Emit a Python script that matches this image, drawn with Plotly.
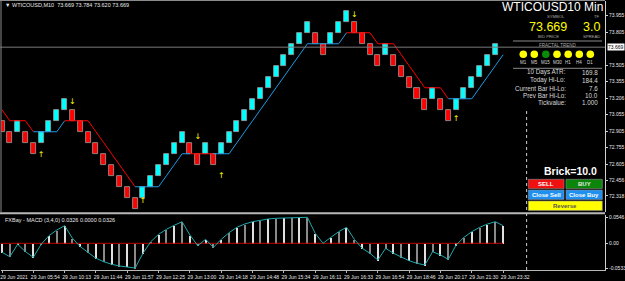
import plotly.graph_objects as go

W, H = 625, 281

# ---------------- data ----------------
brick_low = [72.9, 72.8, 72.9, 72.8, 72.7, 72.8, 72.9, 73.0, 73.1, 73.0,
             72.9, 72.8, 72.7, 72.6, 72.5, 72.4, 72.3, 72.2, 72.3, 72.4,
             72.5, 72.6, 72.7, 72.8, 72.7, 72.6, 72.7, 72.6, 72.7, 72.8,
             72.9, 73.0, 73.1, 73.2, 73.3, 73.4, 73.5, 73.6, 73.7, 73.8,
             73.7, 73.6, 73.7, 73.8, 73.9, 73.8, 73.7, 73.6, 73.5, 73.6,
             73.5, 73.4, 73.3, 73.2, 73.1, 73.2, 73.1, 73.0, 73.1, 73.2,
             73.3, 73.4, 73.5, 73.6]
brick_dir = ("DDUDDUUUUDDDDDDDDDUUUUUUDDUDUUUUUUUUUUUUDDUUUDDDDUDDDDDUDDUUUUUU")
brick_size = 0.1

trail_value = [73.1, 73.0, 73.0, 73.0, 72.9, 72.9, 72.9, 72.9, 73.0, 73.0,
               73.0, 73.0, 72.9, 72.8, 72.7, 72.6, 72.5, 72.4, 72.4, 72.4,
               72.4, 72.5, 72.6, 72.7, 72.7, 72.7, 72.7, 72.7, 72.7, 72.7,
               72.8, 72.9, 73.0, 73.1, 73.2, 73.3, 73.4, 73.5, 73.6, 73.7,
               73.7, 73.7, 73.7, 73.7, 73.8, 73.8, 73.8, 73.8, 73.7, 73.7,
               73.7, 73.6, 73.5, 73.4, 73.3, 73.3, 73.3, 73.2, 73.2, 73.2,
               73.2, 73.3, 73.4, 73.5, 73.6]
trail_state = ("DDDD" "UUUU" "DDDDDDDDD" "UUUUUUU" "DDD"
               "UUUUUUUUUUUUUUUUU" "DDDDDDDDDDDDD" "UUUUUUUU")

macd = [-0.0189, -0.0282, -0.0021, -0.0176, -0.0294, -0.0021, 0.0160, 0.0279, 0.0370, 0.0105,
        -0.0071, -0.0197, -0.0315, -0.0387, -0.0441, -0.0477, -0.0492, -0.0519, -0.0210, 0.0034,
        0.0189, 0.0294, 0.0378, 0.0454, 0.0174, -0.0050, 0.0084, -0.0084, 0.0084, 0.0223,
        0.0336, 0.0405, 0.0454, 0.0489, 0.0511, 0.0525, 0.0532, 0.0538, 0.0546, 0.0546,
        0.0210, 0.0000, 0.0126, 0.0244, 0.0336, 0.0084, -0.0105, -0.0210, -0.0351, -0.0105,
        -0.0210, -0.0294, -0.0366, -0.0420, -0.0456, -0.0176, -0.0246, -0.0336, -0.0036, 0.0126,
        0.0244, 0.0336, 0.0405, 0.0454, 0.0370]

fractal_up_bar = [6, 19, 29, 59]
fractal_up_price = [72.69, 72.27, 72.50, 73.02]
fractal_dn_bar = [10, 26, 46]
fractal_dn_price = [73.17, 72.85, 73.96]

time_tick_bar = [1, 5, 9, 13, 17, 21, 25, 29, 33, 37, 41, 45, 49, 53, 57, 61, 65]
time_tick_text = ["29 Jun 2021", "29 Jun 05:54", "29 Jun 10:13", "29 Jun 11:44",
                  "29 Jun 11:57", "29 Jun 12:25", "29 Jun 13:00", "29 Jun 14:18",
                  "29 Jun 14:48", "29 Jun 15:34", "29 Jun 16:11", "29 Jun 16:33",
                  "29 Jun 16:54", "29 Jun 18:46", "29 Jun 20:17", "29 Jun 21:30",
                  "29 Jun 23:32"]

price_ticks = [73.955, 73.805, 73.505, 73.355, 73.206, 73.055, 72.905,
               72.755, 72.605, 72.456, 72.318]
price_tick_text = ["73.955", "73.805", "73.505", "73.355", "73.206", "73.055", "72.905",
                   "72.755", "72.605", "72.456", "72.318"]
bid_price = 73.669
macd_ticks = [0.0546, 0.0, -0.0533]
macd_tick_text = ["0.0546", "0.00", "-0.0533"]

atr_labels = ["10 Days ATR:", "Today Hi-Lo:", "Current Bar Hi-Lo:", "Prev Bar Hi-Lo:", "Tickvalue:"]
atr_values = ["169.8", "184.4", "7.6", "10.0", "1.000"]
tf_labels = ["M1", "M5", "M15", "M30", "H1", "H4", "D1"]
tf_trend = ["Y", "Y", "G", "Y", "Y", "Y", "Y"]

# ---------------- helpers ----------------
def px(x):
    return x / W

def py(y):
    return 1 - y / H

FONT = "Liberation Sans, Arial, sans-serif"
bars = list(range(1, len(brick_low) + 1))
mbars = list(range(1, len(macd) + 1))

fig = go.Figure()

# renko bricks
fig.add_trace(go.Bar(
    x=bars, y=[brick_size] * len(bars), base=brick_low, width=0.64,
    marker=dict(color=["#00FFFF" if d == "U" else "#FF0000" for d in brick_dir],
                line=dict(color="#9c9c9c", width=0.8)),
    yaxis="y", xaxis="x", hoverinfo="skip", showlegend=False))

# trailing stepped line
for state, col in (("D", "#FF0000"), ("U", "#1C9BE6")):
    xs, ys = [], []
    for i in range(len(trail_value) - 1):
        if trail_state[i] == state:
            xs += [i + 1, i + 2, None]
            ys += [trail_value[i], trail_value[i + 1], None]
    fig.add_trace(go.Scatter(x=xs, y=ys, mode="lines", line=dict(color=col, width=1),
                             yaxis="y", hoverinfo="skip", showlegend=False))

# fractal arrows
fig.add_trace(go.Scatter(x=fractal_up_bar, y=fractal_up_price, mode="text", text=["↑"] * len(fractal_up_bar),
                         textfont=dict(color="#FFFF00", size=8, family="DejaVu Sans"),
                         yaxis="y", hoverinfo="skip", showlegend=False))
fig.add_trace(go.Scatter(x=fractal_dn_bar, y=fractal_dn_price, mode="text", text=["↓"] * len(fractal_dn_bar),
                         textfont=dict(color="#FFFF00", size=8, family="DejaVu Sans"),
                         yaxis="y", hoverinfo="skip", showlegend=False))

# MACD zero line
fig.add_trace(go.Scatter(x=[0.87, mbars[-1]], y=[0, 0], mode="lines", line=dict(color="#C00000", width=1),
                         yaxis="y2", hoverinfo="skip", showlegend=False))
# MACD histogram
fig.add_trace(go.Bar(x=mbars, y=macd, width=0.14,
                     marker=dict(color=["#E0E0E0" if i % 2 == 0 else "#8A8A8A" for i in range(len(macd))],
                                 line=dict(width=0)),
                     yaxis="y2", hoverinfo="skip", showlegend=False))
# MACD line
fig.add_trace(go.Scatter(x=mbars, y=macd, mode="lines", line=dict(color="#20A8AC", width=1),
                         yaxis="y2", hoverinfo="skip", showlegend=False))

# ---------------- layout ----------------
x0, x1 = 1, 605
main_top, main_bot = 1, 212
sub_top, sub_bot = 214.5, 270

shapes = [
    dict(type="line", xref="paper", yref="paper", x0=0, x1=px(x1), y0=py(0.5), y1=py(0.5),
         line=dict(color="#8a8a8a", width=1)),
    dict(type="line", xref="paper", yref="paper", x0=px(1), x1=px(1), y0=py(main_top), y1=py(main_bot),
         line=dict(color="#8a8a8a", width=1)),
    dict(type="line", xref="paper", yref="paper", x0=0, x1=px(x1), y0=py(213.3), y1=py(213.3),
         line=dict(color="#B8B8B8", width=2)),
    dict(type="line", xref="paper", yref="y", x0=0, x1=px(x1), y0=bid_price, y1=bid_price,
         line=dict(color="#7a7a7a", width=1)),
    dict(type="line", xref="x", yref="paper", x0=68, x1=68, y0=py(270), y1=py(108),
         line=dict(color="#cfcfcf", width=1, dash="dot")),
    dict(type="line", xref="paper", yref="paper", x0=px(513), x1=px(602), y0=py(41), y1=py(41),
         line=dict(color="#8a8a8a", width=1)),
    dict(type="line", xref="paper", yref="paper", x0=px(513), x1=px(602), y0=py(68.3), y1=py(68.3),
         line=dict(color="#8a8a8a", width=1)),
]

annotations = []

def text(x, y, s, size, color="#FFFFFF", anchor="left", bold=False, family=FONT, bg=None):
    a = dict(xref="paper", yref="paper", x=px(x), y=py(y), text=("<b>%s</b>" % s) if bold else s,
             showarrow=False, xanchor=anchor, yanchor="middle",
             font=dict(size=size, color=color, family=family))
    if bg:
        a["bgcolor"] = bg
    annotations.append(a)

text(3, 5, "▼ WTICOUSD,M10  73.669 73.784 73.620 73.669", 5.5, "#E8E8E8")
text(3, 219.5, "FXBay - MACD (3,4,0) 0.0326 0.0000 0.0326", 5.5, "#E8E8E8")

annotations.append(dict(xref="paper", yref="y", x=px(606.5), y=bid_price, text="73.669", showarrow=False,
                        xanchor="left", yanchor="middle", bgcolor="#FFFFFF", borderpad=0,
                        font=dict(size=5, color="#000000", family=FONT)))

# info panel
text(604.5, 7.3, "WTICOUSD10 Min", 12, "#FFFFFF", anchor="right")
text(556, 16.8, "SYMBOL", 4.2, "#A8A8A8", anchor="center")
text(597, 16.8, "TF", 4.2, "#A8A8A8", anchor="center")
text(547.5, 27.5, "73.669", 12.5, "#FFFF00", anchor="center")
text(591, 27.5, "3.0", 12.5, "#FFFF00", anchor="center")
text(548, 36, "BID PRICE", 4.2, "#A8A8A8", anchor="center")
text(591, 36, "SPREAD", 4.2, "#A8A8A8", anchor="center")
text(557, 45.5, "FRACTAL TREND", 4.5, "#A8A8A8", anchor="center")

circle_x = [523.3, 534.3, 545.8, 557.0, 568.2, 579.3, 590.3]
for cx, lab, tr in zip(circle_x, tf_labels, tf_trend):
    col = "#FFFF00" if tr == "Y" else "#0A8A0A"
    shapes.append(dict(type="circle", xref="paper", yref="paper", x0=px(cx - 3.8), x1=px(cx + 3.8),
                       y0=py(54.3 + 3.8), y1=py(54.3 - 3.8), fillcolor=col, line=dict(width=0)))
    text(cx, 62.3, lab, 4.5, "#D8D8D8", anchor="center")

row_y = [72.3, 80.2, 88.0, 95.4, 102.6]
for ry, lab, val in zip(row_y, atr_labels, atr_values):
    text(567.5, ry, lab, 6.3, "#D8D8D8", anchor="right")
    text(599.5, ry, val, 6.3, "#D8D8D8", anchor="right")

text(598.5, 171, "Brick=10.0", 10.5, "#FFFFFF", anchor="right", bold=True)

buttons = [
    (528.3, 564.0, 179.3, 188.6, "#F01010", "SELL", "#FFFFFF"),
    (566.0, 602.3, 179.3, 188.6, "#0B860B", "BUY", "#E8E8E8"),
    (528.3, 564.0, 190.0, 199.6, "#2090F0", "Close Sell", "#FFFFFF"),
    (566.0, 602.3, 190.0, 199.6, "#2090F0", "Close Buy", "#FFFFFF"),
    (528.3, 602.3, 201.0, 210.6, "#FFFF00", "Reverse", "#555555"),
]
for bx0, bx1, by0, by1, fill, lab, tc in buttons:
    shapes.append(dict(type="rect", xref="paper", yref="paper", x0=px(bx0), x1=px(bx1),
                       y0=py(by1), y1=py(by0), fillcolor=fill, line=dict(color="#909090", width=0.6)))
    text((bx0 + bx1) / 2, (by0 + by1) / 2, lab, 6, tc, anchor="center", bold=True)

bar_px = 7.83
xr0 = 1 - (2 - x0) / bar_px
xr1 = xr0 + (x1 - x0) / bar_px
ppu = 110.0
yr_top = 73.955 + (15.7 - main_top) / ppu
yr_bot = 73.955 - (main_bot - 15.7) / ppu
mppu = 476.0
zero_px = 243.3
m_top = (zero_px - sub_top) / mppu
m_bot = -(sub_bot - zero_px) / mppu

fig.update_layout(
    width=W, height=H, margin=dict(l=0, r=0, t=0, b=0),
    paper_bgcolor="#000000", plot_bgcolor="#000000",
    barmode="overlay", bargap=0, showlegend=False,
    xaxis=dict(domain=[px(x0), px(x1)], range=[xr0, xr1], anchor="y2",
               showgrid=False, zeroline=False, showline=True, linecolor="#B8B8B8", linewidth=1,
               tickmode="array", tickvals=time_tick_bar, ticktext=time_tick_text,
               ticks="outside", ticklen=2, tickcolor="#B8B8B8", ticklabelshift=12,
               tickfont=dict(size=5, color="#E8E8E8", family=FONT), automargin=False, fixedrange=True),
    yaxis=dict(domain=[py(main_bot), py(main_top)], range=[yr_bot, yr_top], side="right", anchor="x",
               showgrid=False, zeroline=False, showline=True, linecolor="#D0D0D0", linewidth=1,
               tickmode="array", tickvals=price_ticks, ticktext=price_tick_text,
               ticks="outside", ticklen=2, tickcolor="#D0D0D0",
               tickfont=dict(size=5, color="#E8E8E8", family=FONT), automargin=False),
    yaxis2=dict(domain=[py(sub_bot), py(sub_top)], range=[m_bot, m_top], side="right", anchor="x",
                showgrid=False, zeroline=False, showline=True, linecolor="#D0D0D0", linewidth=1,
                tickmode="array", tickvals=macd_ticks, ticktext=macd_tick_text,
                ticks="outside", ticklen=2, tickcolor="#D0D0D0",
                tickfont=dict(size=5, color="#E8E8E8", family=FONT), automargin=False),
    shapes=shapes, annotations=annotations,
)

fig.write_html("out.html")
